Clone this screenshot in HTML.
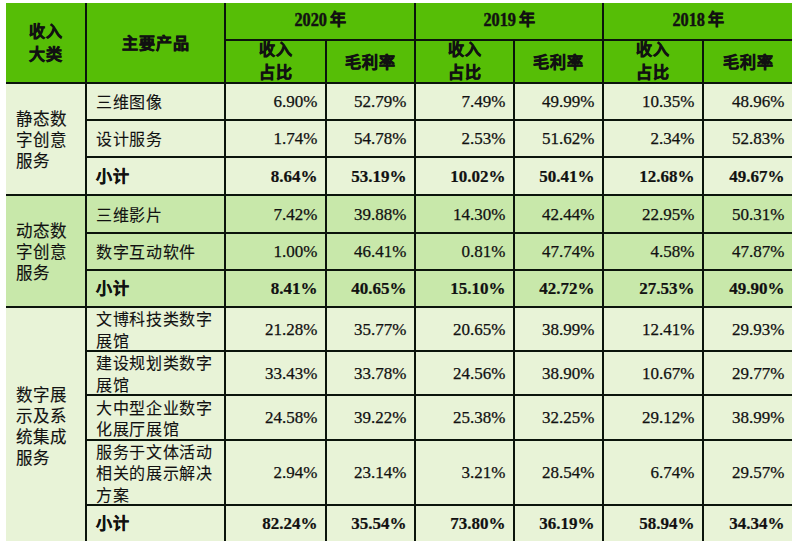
<!DOCTYPE html>
<html lang="zh-CN"><head><meta charset="utf-8"><style>
html,body{margin:0;padding:0;background:#fff;width:800px;height:544px;overflow:hidden}
#t{position:relative;width:800px;height:544px}
#t div{position:absolute;box-sizing:border-box}
#t .c{display:flex;align-items:center;font-family:"Liberation Serif",serif;color:#111;white-space:nowrap}
.hb{font-size:16px;line-height:23px;font-weight:bold;letter-spacing:1px;-webkit-text-stroke:0.6px #111}
.hy{font-size:17.5px;font-weight:bold}
.hs{font-size:16px;line-height:22.5px;font-weight:bold;letter-spacing:1px;-webkit-text-stroke:0.6px #111}
.sl{font-size:16.5px;line-height:21px;letter-spacing:0.3px;-webkit-text-stroke:0.15px #111}
.p{font-size:16px;line-height:21.5px;letter-spacing:0.7px;-webkit-text-stroke:0.1px #111}
.pb{font-size:16px;font-weight:bold;letter-spacing:0.7px;-webkit-text-stroke:0.4px #111}
.k{-webkit-text-stroke:0.6px #111;font-size:16px;margin-left:3.5px;position:relative;top:-1px}
.yd{display:inline-block;font-size:18.5px;transform:scaleX(0.88);transform-origin:right center;margin-left:-4.4px;-webkit-text-stroke:0.5px #111}
.n{font-size:17px;-webkit-text-stroke:0.25px #111}
.nb{font-size:17px;font-weight:bold;-webkit-text-stroke:0.2px #111}
</style></head><body><div id="t">
<div style="left:6px;top:3px;width:786px;height:79px;background:#56be06"></div>
<div style="left:6px;top:82px;width:786px;height:459px;background:#e8f3d7"></div>
<div style="left:6px;top:194px;width:786px;height:112px;background:#c8e8aa"></div>
<div style="left:224px;top:39px;width:568px;height:2px;background:#0b140b"></div>
<div style="left:6px;top:82px;width:786px;height:2px;background:#0b140b"></div>
<div style="left:85px;top:119px;width:707px;height:2px;background:#0b140b"></div>
<div style="left:85px;top:156px;width:707px;height:2px;background:#0b140b"></div>
<div style="left:6px;top:194px;width:786px;height:2px;background:#0b140b"></div>
<div style="left:85px;top:232px;width:707px;height:2px;background:#0b140b"></div>
<div style="left:85px;top:269px;width:707px;height:2px;background:#0b140b"></div>
<div style="left:6px;top:306px;width:786px;height:2px;background:#0b140b"></div>
<div style="left:85px;top:350px;width:707px;height:2px;background:#0b140b"></div>
<div style="left:85px;top:394px;width:707px;height:2px;background:#0b140b"></div>
<div style="left:85px;top:439px;width:707px;height:2px;background:#0b140b"></div>
<div style="left:85px;top:504px;width:707px;height:2px;background:#0b140b"></div>
<div style="left:85px;top:3px;width:2px;height:538px;background:#0b140b"></div>
<div style="left:224px;top:3px;width:2px;height:538px;background:#0b140b"></div>
<div style="left:414px;top:3px;width:2px;height:538px;background:#0b140b"></div>
<div style="left:602px;top:3px;width:2px;height:538px;background:#0b140b"></div>
<div style="left:325px;top:39px;width:2px;height:502px;background:#0b140b"></div>
<div style="left:513px;top:39px;width:2px;height:502px;background:#0b140b"></div>
<div style="left:702px;top:39px;width:2px;height:502px;background:#0b140b"></div>
<div class="c hb" style="left:6px;top:3px;width:79px;height:79px;justify-content:center;text-align:center;padding:0 0px 0 0px"><span>收入<br>大类</span></div>
<div class="c hb" style="left:87px;top:4px;width:137px;height:79px;justify-content:center;text-align:center;padding:0 0px 0 0px"><span>主要产品</span></div>
<div class="c hy" style="left:226px;top:0.5px;width:188px;height:36px;justify-content:center;text-align:center;padding:0 0px 0 0px"><span><span class="yd">2020</span><span class="k">年</span></span></div>
<div class="c hy" style="left:416px;top:0.5px;width:186px;height:36px;justify-content:center;text-align:center;padding:0 0px 0 0px"><span><span class="yd">2019</span><span class="k">年</span></span></div>
<div class="c hy" style="left:604px;top:0.5px;width:188px;height:36px;justify-content:center;text-align:center;padding:0 0px 0 0px"><span><span class="yd">2018</span><span class="k">年</span></span></div>
<div class="c hs" style="left:226px;top:41px;width:99px;height:41px;justify-content:center;text-align:center;padding:0 0px 0 0px"><span>收入<br>占比</span></div>
<div class="c hs" style="left:327px;top:42.5px;width:87px;height:41px;justify-content:center;text-align:center;padding:0 0px 0 0px"><span>毛利率</span></div>
<div class="c hs" style="left:416px;top:41px;width:97px;height:41px;justify-content:center;text-align:center;padding:0 0px 0 0px"><span>收入<br>占比</span></div>
<div class="c hs" style="left:515px;top:42.5px;width:87px;height:41px;justify-content:center;text-align:center;padding:0 0px 0 0px"><span>毛利率</span></div>
<div class="c hs" style="left:604px;top:41px;width:98px;height:41px;justify-content:center;text-align:center;padding:0 0px 0 0px"><span>收入<br>占比</span></div>
<div class="c hs" style="left:704px;top:42.5px;width:88px;height:41px;justify-content:center;text-align:center;padding:0 0px 0 0px"><span>毛利率</span></div>
<div class="c sl" style="left:6px;top:85.5px;width:79px;height:110px;justify-content:flex-start;text-align:left;padding:0 0px 0 9.5px"><span>静态数<br>字创意<br>服务</span></div>
<div class="c sl" style="left:6px;top:197.5px;width:79px;height:110px;justify-content:flex-start;text-align:left;padding:0 0px 0 9.5px"><span>动态数<br>字创意<br>服务</span></div>
<div class="c sl" style="left:6px;top:310.5px;width:79px;height:233px;justify-content:flex-start;text-align:left;padding:0 0px 0 9.5px"><span>数字展<br>示及系<br>统集成<br>服务</span></div>
<div class="c p" style="left:87px;top:85.5px;width:137px;height:35px;justify-content:flex-start;text-align:left;padding:0 0px 0 9px"><span>三维图像</span></div>
<div class="c n" style="left:226px;top:84.5px;width:99px;height:35px;justify-content:flex-end;text-align:right;padding:0 7.5px 0 0px"><span>6.90%</span></div>
<div class="c n" style="left:327px;top:84.5px;width:87px;height:35px;justify-content:flex-end;text-align:right;padding:0 7.5px 0 0px"><span>52.79%</span></div>
<div class="c n" style="left:416px;top:84.5px;width:97px;height:35px;justify-content:flex-end;text-align:right;padding:0 7.5px 0 0px"><span>7.49%</span></div>
<div class="c n" style="left:515px;top:84.5px;width:87px;height:35px;justify-content:flex-end;text-align:right;padding:0 7.5px 0 0px"><span>49.99%</span></div>
<div class="c n" style="left:604px;top:84.5px;width:98px;height:35px;justify-content:flex-end;text-align:right;padding:0 7.5px 0 0px"><span>10.35%</span></div>
<div class="c n" style="left:704px;top:84.5px;width:88px;height:35px;justify-content:flex-end;text-align:right;padding:0 7.5px 0 0px"><span>48.96%</span></div>
<div class="c p" style="left:87px;top:122.5px;width:137px;height:35px;justify-content:flex-start;text-align:left;padding:0 0px 0 9px"><span>设计服务</span></div>
<div class="c n" style="left:226px;top:121.5px;width:99px;height:35px;justify-content:flex-end;text-align:right;padding:0 7.5px 0 0px"><span>1.74%</span></div>
<div class="c n" style="left:327px;top:121.5px;width:87px;height:35px;justify-content:flex-end;text-align:right;padding:0 7.5px 0 0px"><span>54.78%</span></div>
<div class="c n" style="left:416px;top:121.5px;width:97px;height:35px;justify-content:flex-end;text-align:right;padding:0 7.5px 0 0px"><span>2.53%</span></div>
<div class="c n" style="left:515px;top:121.5px;width:87px;height:35px;justify-content:flex-end;text-align:right;padding:0 7.5px 0 0px"><span>51.62%</span></div>
<div class="c n" style="left:604px;top:121.5px;width:98px;height:35px;justify-content:flex-end;text-align:right;padding:0 7.5px 0 0px"><span>2.34%</span></div>
<div class="c n" style="left:704px;top:121.5px;width:88px;height:35px;justify-content:flex-end;text-align:right;padding:0 7.5px 0 0px"><span>52.83%</span></div>
<div class="c pb" style="left:87px;top:156.5px;width:137px;height:36px;justify-content:flex-start;text-align:left;padding:0 0px 0 9px"><span>小计</span></div>
<div class="c nb" style="left:226px;top:158.5px;width:99px;height:36px;justify-content:flex-end;text-align:right;padding:0 7.5px 0 0px"><span>8.64%</span></div>
<div class="c nb" style="left:327px;top:158.5px;width:87px;height:36px;justify-content:flex-end;text-align:right;padding:0 7.5px 0 0px"><span>53.19%</span></div>
<div class="c nb" style="left:416px;top:158.5px;width:97px;height:36px;justify-content:flex-end;text-align:right;padding:0 7.5px 0 0px"><span>10.02%</span></div>
<div class="c nb" style="left:515px;top:158.5px;width:87px;height:36px;justify-content:flex-end;text-align:right;padding:0 7.5px 0 0px"><span>50.41%</span></div>
<div class="c nb" style="left:604px;top:158.5px;width:98px;height:36px;justify-content:flex-end;text-align:right;padding:0 7.5px 0 0px"><span>12.68%</span></div>
<div class="c nb" style="left:704px;top:158.5px;width:88px;height:36px;justify-content:flex-end;text-align:right;padding:0 7.5px 0 0px"><span>49.67%</span></div>
<div class="c p" style="left:87px;top:197.5px;width:137px;height:36px;justify-content:flex-start;text-align:left;padding:0 0px 0 9px"><span>三维影片</span></div>
<div class="c n" style="left:226px;top:196.5px;width:99px;height:36px;justify-content:flex-end;text-align:right;padding:0 7.5px 0 0px"><span>7.42%</span></div>
<div class="c n" style="left:327px;top:196.5px;width:87px;height:36px;justify-content:flex-end;text-align:right;padding:0 7.5px 0 0px"><span>39.88%</span></div>
<div class="c n" style="left:416px;top:196.5px;width:97px;height:36px;justify-content:flex-end;text-align:right;padding:0 7.5px 0 0px"><span>14.30%</span></div>
<div class="c n" style="left:515px;top:196.5px;width:87px;height:36px;justify-content:flex-end;text-align:right;padding:0 7.5px 0 0px"><span>42.44%</span></div>
<div class="c n" style="left:604px;top:196.5px;width:98px;height:36px;justify-content:flex-end;text-align:right;padding:0 7.5px 0 0px"><span>22.95%</span></div>
<div class="c n" style="left:704px;top:196.5px;width:88px;height:36px;justify-content:flex-end;text-align:right;padding:0 7.5px 0 0px"><span>50.31%</span></div>
<div class="c p" style="left:87px;top:235.5px;width:137px;height:35px;justify-content:flex-start;text-align:left;padding:0 0px 0 9px"><span>数字互动软件</span></div>
<div class="c n" style="left:226px;top:234.5px;width:99px;height:35px;justify-content:flex-end;text-align:right;padding:0 7.5px 0 0px"><span>1.00%</span></div>
<div class="c n" style="left:327px;top:234.5px;width:87px;height:35px;justify-content:flex-end;text-align:right;padding:0 7.5px 0 0px"><span>46.41%</span></div>
<div class="c n" style="left:416px;top:234.5px;width:97px;height:35px;justify-content:flex-end;text-align:right;padding:0 7.5px 0 0px"><span>0.81%</span></div>
<div class="c n" style="left:515px;top:234.5px;width:87px;height:35px;justify-content:flex-end;text-align:right;padding:0 7.5px 0 0px"><span>47.74%</span></div>
<div class="c n" style="left:604px;top:234.5px;width:98px;height:35px;justify-content:flex-end;text-align:right;padding:0 7.5px 0 0px"><span>4.58%</span></div>
<div class="c n" style="left:704px;top:234.5px;width:88px;height:35px;justify-content:flex-end;text-align:right;padding:0 7.5px 0 0px"><span>47.87%</span></div>
<div class="c pb" style="left:87px;top:269.5px;width:137px;height:35px;justify-content:flex-start;text-align:left;padding:0 0px 0 9px"><span>小计</span></div>
<div class="c nb" style="left:226px;top:271.5px;width:99px;height:35px;justify-content:flex-end;text-align:right;padding:0 7.5px 0 0px"><span>8.41%</span></div>
<div class="c nb" style="left:327px;top:271.5px;width:87px;height:35px;justify-content:flex-end;text-align:right;padding:0 7.5px 0 0px"><span>40.65%</span></div>
<div class="c nb" style="left:416px;top:271.5px;width:97px;height:35px;justify-content:flex-end;text-align:right;padding:0 7.5px 0 0px"><span>15.10%</span></div>
<div class="c nb" style="left:515px;top:271.5px;width:87px;height:35px;justify-content:flex-end;text-align:right;padding:0 7.5px 0 0px"><span>42.72%</span></div>
<div class="c nb" style="left:604px;top:271.5px;width:98px;height:35px;justify-content:flex-end;text-align:right;padding:0 7.5px 0 0px"><span>27.53%</span></div>
<div class="c nb" style="left:704px;top:271.5px;width:88px;height:35px;justify-content:flex-end;text-align:right;padding:0 7.5px 0 0px"><span>49.90%</span></div>
<div class="c p" style="left:87px;top:309.5px;width:137px;height:42px;justify-content:flex-start;text-align:left;padding:0 0px 0 9px"><span>文博科技类数字<br>展馆</span></div>
<div class="c n" style="left:226px;top:308.5px;width:99px;height:42px;justify-content:flex-end;text-align:right;padding:0 7.5px 0 0px"><span>21.28%</span></div>
<div class="c n" style="left:327px;top:308.5px;width:87px;height:42px;justify-content:flex-end;text-align:right;padding:0 7.5px 0 0px"><span>35.77%</span></div>
<div class="c n" style="left:416px;top:308.5px;width:97px;height:42px;justify-content:flex-end;text-align:right;padding:0 7.5px 0 0px"><span>20.65%</span></div>
<div class="c n" style="left:515px;top:308.5px;width:87px;height:42px;justify-content:flex-end;text-align:right;padding:0 7.5px 0 0px"><span>38.99%</span></div>
<div class="c n" style="left:604px;top:308.5px;width:98px;height:42px;justify-content:flex-end;text-align:right;padding:0 7.5px 0 0px"><span>12.41%</span></div>
<div class="c n" style="left:704px;top:308.5px;width:88px;height:42px;justify-content:flex-end;text-align:right;padding:0 7.5px 0 0px"><span>29.93%</span></div>
<div class="c p" style="left:87px;top:353.5px;width:137px;height:42px;justify-content:flex-start;text-align:left;padding:0 0px 0 9px"><span>建设规划类数字<br>展馆</span></div>
<div class="c n" style="left:226px;top:352.5px;width:99px;height:42px;justify-content:flex-end;text-align:right;padding:0 7.5px 0 0px"><span>33.43%</span></div>
<div class="c n" style="left:327px;top:352.5px;width:87px;height:42px;justify-content:flex-end;text-align:right;padding:0 7.5px 0 0px"><span>33.78%</span></div>
<div class="c n" style="left:416px;top:352.5px;width:97px;height:42px;justify-content:flex-end;text-align:right;padding:0 7.5px 0 0px"><span>24.56%</span></div>
<div class="c n" style="left:515px;top:352.5px;width:87px;height:42px;justify-content:flex-end;text-align:right;padding:0 7.5px 0 0px"><span>38.90%</span></div>
<div class="c n" style="left:604px;top:352.5px;width:98px;height:42px;justify-content:flex-end;text-align:right;padding:0 7.5px 0 0px"><span>10.67%</span></div>
<div class="c n" style="left:704px;top:352.5px;width:88px;height:42px;justify-content:flex-end;text-align:right;padding:0 7.5px 0 0px"><span>29.77%</span></div>
<div class="c p" style="left:87px;top:397.5px;width:137px;height:43px;justify-content:flex-start;text-align:left;padding:0 0px 0 9px"><span>大中型企业数字<br>化展厅展馆</span></div>
<div class="c n" style="left:226px;top:396.5px;width:99px;height:43px;justify-content:flex-end;text-align:right;padding:0 7.5px 0 0px"><span>24.58%</span></div>
<div class="c n" style="left:327px;top:396.5px;width:87px;height:43px;justify-content:flex-end;text-align:right;padding:0 7.5px 0 0px"><span>39.22%</span></div>
<div class="c n" style="left:416px;top:396.5px;width:97px;height:43px;justify-content:flex-end;text-align:right;padding:0 7.5px 0 0px"><span>25.38%</span></div>
<div class="c n" style="left:515px;top:396.5px;width:87px;height:43px;justify-content:flex-end;text-align:right;padding:0 7.5px 0 0px"><span>32.25%</span></div>
<div class="c n" style="left:604px;top:396.5px;width:98px;height:43px;justify-content:flex-end;text-align:right;padding:0 7.5px 0 0px"><span>29.12%</span></div>
<div class="c n" style="left:704px;top:396.5px;width:88px;height:43px;justify-content:flex-end;text-align:right;padding:0 7.5px 0 0px"><span>38.99%</span></div>
<div class="c p" style="left:87px;top:442.5px;width:137px;height:63px;justify-content:flex-start;text-align:left;padding:0 0px 0 9px"><span>服务于文体活动<br>相关的展示解决<br>方案</span></div>
<div class="c n" style="left:226px;top:441.5px;width:99px;height:63px;justify-content:flex-end;text-align:right;padding:0 7.5px 0 0px"><span>2.94%</span></div>
<div class="c n" style="left:327px;top:441.5px;width:87px;height:63px;justify-content:flex-end;text-align:right;padding:0 7.5px 0 0px"><span>23.14%</span></div>
<div class="c n" style="left:416px;top:441.5px;width:97px;height:63px;justify-content:flex-end;text-align:right;padding:0 7.5px 0 0px"><span>3.21%</span></div>
<div class="c n" style="left:515px;top:441.5px;width:87px;height:63px;justify-content:flex-end;text-align:right;padding:0 7.5px 0 0px"><span>28.54%</span></div>
<div class="c n" style="left:604px;top:441.5px;width:98px;height:63px;justify-content:flex-end;text-align:right;padding:0 7.5px 0 0px"><span>6.74%</span></div>
<div class="c n" style="left:704px;top:441.5px;width:88px;height:63px;justify-content:flex-end;text-align:right;padding:0 7.5px 0 0px"><span>29.57%</span></div>
<div class="c pb" style="left:87px;top:504.5px;width:137px;height:35px;justify-content:flex-start;text-align:left;padding:0 0px 0 9px"><span>小计</span></div>
<div class="c nb" style="left:226px;top:506.5px;width:99px;height:35px;justify-content:flex-end;text-align:right;padding:0 7.5px 0 0px"><span>82.24%</span></div>
<div class="c nb" style="left:327px;top:506.5px;width:87px;height:35px;justify-content:flex-end;text-align:right;padding:0 7.5px 0 0px"><span>35.54%</span></div>
<div class="c nb" style="left:416px;top:506.5px;width:97px;height:35px;justify-content:flex-end;text-align:right;padding:0 7.5px 0 0px"><span>73.80%</span></div>
<div class="c nb" style="left:515px;top:506.5px;width:87px;height:35px;justify-content:flex-end;text-align:right;padding:0 7.5px 0 0px"><span>36.19%</span></div>
<div class="c nb" style="left:604px;top:506.5px;width:98px;height:35px;justify-content:flex-end;text-align:right;padding:0 7.5px 0 0px"><span>58.94%</span></div>
<div class="c nb" style="left:704px;top:506.5px;width:88px;height:35px;justify-content:flex-end;text-align:right;padding:0 7.5px 0 0px"><span>34.34%</span></div>
</div></body></html>
